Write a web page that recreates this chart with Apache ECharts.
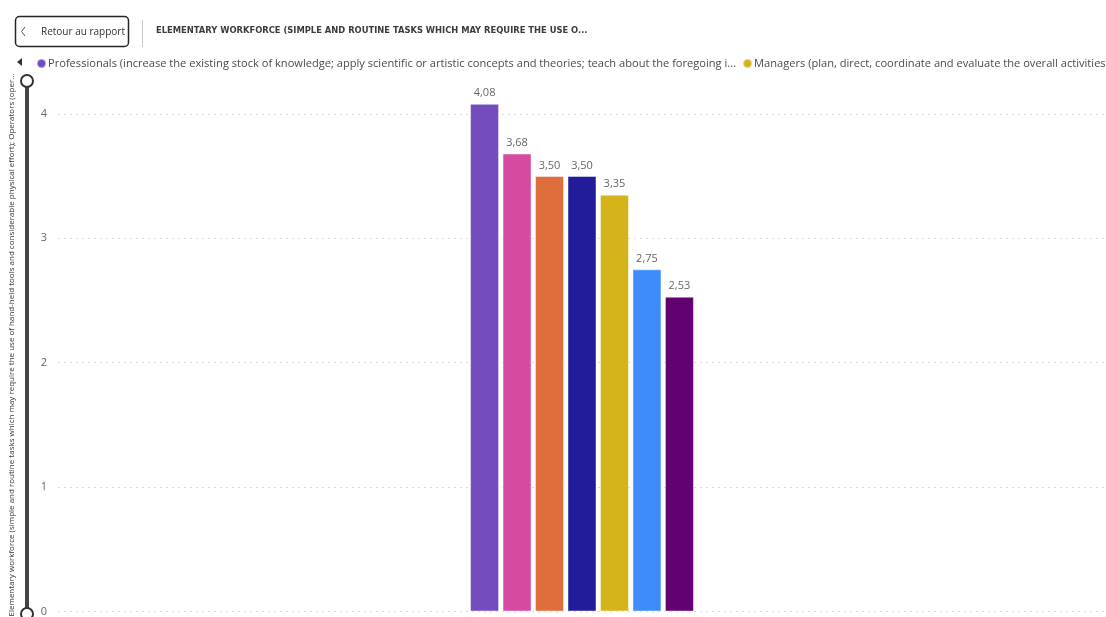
<!DOCTYPE html>
<html>
<head>
<meta charset="utf-8">
<script src="https://cdn.jsdelivr.net/npm/echarts@6/dist/echarts.min.js"></script>
<style>
  html, body { margin: 0; padding: 0; background: #ffffff; }
  #chart { width: 1106px; height: 617px; }
</style>
</head>
<body>
<div id="chart"></div>
<script>
// Occupation groups, one bar each, in drawing order
const seriesNames = [
  'Professionals (increase the existing stock of knowledge; apply scientific or artistic concepts and theories; teach about the foregoing in a systematic manner)',
  'Technicians and associate professionals (perform technical and related tasks connected with research and the application of scientific concepts)',
  'Clerical support workers (record, organize, store, compute and retrieve information)',
  'Service and sales workers (provide personal and protective services and sell goods)',
  'Managers (plan, direct, coordinate and evaluate the overall activities of enterprises, governments and other organizations)',
  'Craft and related trades workers (apply specific technical and practical knowledge and skills)',
  'Skilled agricultural, forestry and fishery workers (grow and harvest field or tree crops)'
];
const seriesValues = [4.08, 3.68, 3.50, 3.50, 3.35, 2.75, 2.53];
const seriesColors = ['#744CBE', '#D64BA0', '#DE6E3B', '#221C9B', '#D4B41A', '#3E8BFC', '#620171'];

// Single category on the x axis
const categories = ['Elementary workforce'];

// Legend entries shown in the strip (as they fit on one line)
const legendItems = [seriesNames[0], seriesNames[4]];
const legendLabels = [
  'Professionals (increase the existing stock of knowledge; apply scientific or artistic concepts and theories; teach about the foregoing i...',
  'Managers (plan, direct, coordinate and evaluate the overall activities ..'
];

// Value axis ticks
const yTicks = [0, 1, 2, 3, 4];

const titleText = 'ELEMENTARY WORKFORCE (SIMPLE AND ROUTINE TASKS WHICH MAY REQUIRE THE USE O...';
const yAxisTitle = 'Elementary workforce (simple and routine tasks which may require the use of hand-held tools and considerable physical effort); Operators (oper...';
const backLabel = 'Retour au rapport';

const fontUI = '"Segoe UI", "Open Sans", "Noto Sans", sans-serif';

const chart = echarts.init(document.getElementById('chart'), null, { renderer: 'canvas' });

const series = seriesNames.map((name, i) => ({
  name: name,
  type: 'bar',
  data: [seriesValues[i]],
  barWidth: 29,
  barGap: '12%',
  itemStyle: {
    color: seriesColors[i],
    borderColor: 'rgba(255,255,255,0.45)',
    borderWidth: 1
  },
  label: {
    show: true,
    position: 'top',
    distance: 5,
    color: '#666666',
    fontFamily: fontUI,
    fontSize: 11,
    formatter: p => p.value.toFixed(2).replace('.', ',')
  },
  emphasis: { disabled: true }
}));

chart.setOption({
  animation: false,
  backgroundColor: '#ffffff',
  title: {
    text: titleText,
    left: 156,
    top: 26,
    padding: 0,
    textStyle: {
      fontFamily: '"DejaVu Sans Condensed", "Liberation Sans Narrow", sans-serif',
      fontWeight: 'bold',
      fontSize: 9.3,
      color: '#3b3b3b'
    }
  },
  legend: {
    data: legendItems,
    left: 31,
    top: 53,
    width: 3000,
    icon: 'circle',
    itemWidth: 9,
    itemHeight: 9,
    itemGap: 6,
    textStyle: { fontFamily: fontUI, fontSize: 11.1, color: '#4a4a4a', padding: [0, 0, 0, -3] },
    formatter: name => legendLabels[legendItems.indexOf(name)],
    selectedMode: false
  },
  grid: { left: 58, right: 0, top: 64, bottom: 0, containLabel: false },
  xAxis: {
    type: 'category',
    data: categories,
    axisLine: { show: false },
    axisTick: { show: false },
    axisLabel: { show: false },
    splitLine: { show: false }
  },
  yAxis: {
    type: 'value',
    min: yTicks[0],
    max: 4.4,
    interval: 1,
    axisLine: { show: false },
    axisTick: { show: false },
    axisLabel: {
      color: '#666666',
      fontFamily: fontUI,
      fontSize: 11,
      margin: 11,
      showMaxLabel: false,
      formatter: v => (yTicks.indexOf(v) >= 0 ? String(v) : '')
    },
    splitLine: { show: true, showMaxLine: false, lineStyle: { color: '#d9d9d9', type: [2, 4], width: 1 } }
  },
  series: series,
  graphic: [
    // back button
    {
      type: 'rect',
      shape: { x: 15.5, y: 16.5, width: 113, height: 30, r: 4 },
      style: { fill: '#ffffff', stroke: '#252525', lineWidth: 1.5 }
    },
    {
      type: 'polyline',
      shape: { points: [[25, 27], [21.5, 31.5], [25, 36]] },
      style: { stroke: '#555555', lineWidth: 1, fill: null }
    },
    {
      type: 'text',
      x: 41, y: 32,
      style: { text: backLabel, font: '10px ' + fontUI, fill: '#333333', textVerticalAlign: 'middle' }
    },
    // separator
    {
      type: 'line',
      shape: { x1: 142.5, y1: 20, x2: 142.5, y2: 47 },
      style: { stroke: '#c8c8c8', lineWidth: 1 }
    },
    // legend page arrow
    {
      type: 'polygon',
      shape: { points: [[17, 62], [22, 58], [22, 66]] },
      style: { fill: '#333333' }
    },
    // vertical range slider
    {
      type: 'line',
      shape: { x1: 27, y1: 81, x2: 27, y2: 614 },
      style: { stroke: '#444444', lineWidth: 4 }
    },
    {
      type: 'circle',
      shape: { cx: 27, cy: 81, r: 6 },
      style: { fill: '#ffffff', stroke: '#333333', lineWidth: 2 }
    },
    {
      type: 'circle',
      shape: { cx: 27, cy: 614, r: 6 },
      style: { fill: '#ffffff', stroke: '#333333', lineWidth: 2 }
    },
    // value axis title
    {
      type: 'text',
      x: 12, y: 345,
      rotation: Math.PI / 2,
      style: {
        text: yAxisTitle,
        font: '8px ' + fontUI,
        fill: '#333333',
        textAlign: 'center',
        textVerticalAlign: 'middle'
      }
    }
  ]
});
</script>
</body>
</html>
